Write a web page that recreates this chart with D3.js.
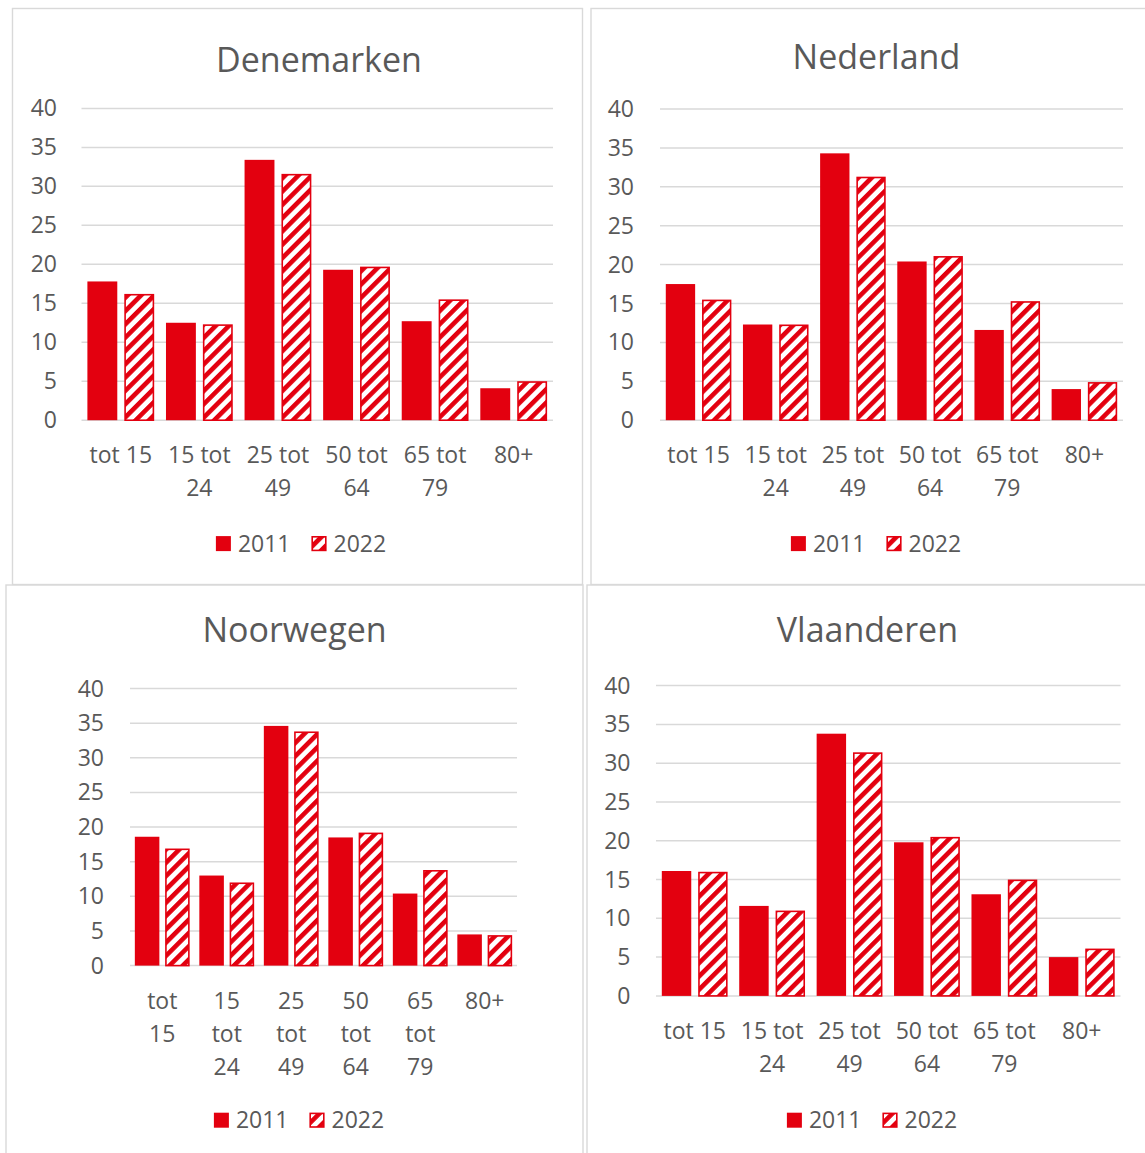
<!DOCTYPE html>
<html>
<head>
<meta charset="utf-8">
<script src="https://cdn.jsdelivr.net/npm/d3@7"></script>
<style>
  body { margin: 0; background: #fff; }
  text { font-family: "Open Sans", "Noto Sans", sans-serif; fill: #595959; }
</style>
</head>
<body>
<div id="chart"></div>
<script>
// categories, series and ticks
var categories = ["tot 15", "15 tot 24", "25 tot 49", "50 tot 64", "65 tot 79", "80+"];
var years = ["2011", "2022"];
var yTicks = [0, 5, 10, 15, 20, 25, 30, 35, 40];

var denemarken2011 = [17.8, 12.5, 33.4, 19.3, 12.7, 4.1];
var denemarken2022 = [16.2, 12.3, 31.6, 19.7, 15.5, 5.0];
var nederland2011 = [17.5, 12.3, 34.3, 20.4, 11.6, 4.0];
var nederland2022 = [15.5, 12.3, 31.3, 21.1, 15.3, 4.9];
var noorwegen2011 = [18.6, 13.0, 34.6, 18.5, 10.4, 4.5];
var noorwegen2022 = [16.9, 12.0, 33.8, 19.2, 13.8, 4.4];
var vlaanderen2011 = [16.1, 11.6, 33.8, 19.8, 13.1, 5.0];
var vlaanderen2022 = [16.0, 11.0, 31.4, 20.5, 15.0, 6.1];

var red = "#e3000f";
var grid = "#d9d9d9";

// panel layouts (positions only)
var panels = [
    { title: "Denemarken", s2011: denemarken2011, s2022: denemarken2022,
      box: [12.5, 8.5, 570, 576], titleX: 319, titleY: 71.5,
      left: 81.5, right: 553, top: 108.4, bottom: 420.2, tickX: 57,
      legendX: 301, legendY: 543.6 },
    { title: "Nederland", s2011: nederland2011, s2022: nederland2022,
      box: [591, 8.5, 570, 576], titleX: 876.4, titleY: 69,
      left: 660, right: 1123, top: 109, bottom: 420.2, tickX: 634,
      legendX: 876, legendY: 543.6 },
    { title: "Noorwegen", s2011: noorwegen2011, s2022: noorwegen2022,
      box: [6, 585, 577, 580], titleX: 294.5, titleY: 642,
      left: 130, right: 517, top: 688.5, bottom: 965.6, tickX: 104,
      legendX: 299, legendY: 1120.2 },
    { title: "Vlaanderen", s2011: vlaanderen2011, s2022: vlaanderen2022,
      box: [587, 585, 570, 580], titleX: 867.4, titleY: 642,
      left: 656, right: 1120.5, top: 685.6, bottom: 995.9, tickX: 630.5,
      legendX: 872, legendY: 1120.2 }
];

var svg = d3.select("#chart")
    .append("svg")
    .attr("width", 1145)
    .attr("height", 1153);

// diagonal hatch for 2022
svg.append("defs").append("pattern")
    .attr("id", "hatch")
    .attr("patternUnits", "userSpaceOnUse")
    .attr("width", 9.4)
    .attr("height", 9.4)
    .attr("patternTransform", "rotate(45)")
    .call(function (p) {
        p.append("rect").attr("width", 9.4).attr("height", 9.4).attr("fill", "#fff");
        p.append("rect").attr("width", 4.6).attr("height", 9.4).attr("fill", red);
    });

function wrap(textSel, maxWidth, lineHeight) {
    textSel.each(function () {
        var text = d3.select(this);
        var words = text.text().split(/\s+/);
        var x = text.attr("x");
        text.text(null);
        var lines = [];
        var line = [];
        var tspan = text.append("tspan");
        words.forEach(function (w) {
            line.push(w);
            tspan.text(line.join(" "));
            if (tspan.node().getComputedTextLength() > maxWidth && line.length > 1) {
                line.pop();
                lines.push(line.join(" "));
                line = [w];
            }
        });
        lines.push(line.join(" "));
        text.text(null);
        lines.forEach(function (l, i) {
            text.append("tspan")
                .attr("x", x)
                .attr("dy", i === 0 ? "0.35em" : lineHeight)
                .text(l);
        });
    });
}

panels.forEach(function (p) {
    var g = svg.append("g");

    // panel border
    g.append("rect")
        .attr("x", p.box[0]).attr("y", p.box[1])
        .attr("width", p.box[2]).attr("height", p.box[3])
        .attr("fill", "none")
        .attr("stroke", grid)
        .attr("stroke-width", 1.4);

    // title
    g.append("text")
        .attr("x", p.titleX)
        .attr("y", p.titleY)
        .attr("text-anchor", "middle")
        .style("font-size", "34px")
        .text(p.title);

    var x0 = d3.scaleBand()
        .domain(categories)
        .range([p.left, p.right])
        .paddingInner(0.15)
        .paddingOuter(0.075);

    var x1 = d3.scaleBand()
        .domain(years)
        .range([0, x0.bandwidth()])
        .paddingInner(0.19);

    var y = d3.scaleLinear()
        .domain([0, 40])
        .range([p.bottom, p.top]);

    // gridlines + y labels
    g.selectAll(".grid")
        .data(yTicks)
        .enter()
        .append("line")
        .attr("x1", p.left).attr("x2", p.right)
        .attr("y1", function (d) { return y(d); })
        .attr("y2", function (d) { return y(d); })
        .attr("stroke", grid)
        .attr("stroke-width", 1.5);

    g.selectAll(".ylab")
        .data(yTicks)
        .enter()
        .append("text")
        .attr("x", p.tickX)
        .attr("y", function (d) { return y(d); })
        .attr("dy", "0.35em")
        .attr("text-anchor", "end")
        .style("font-size", "23px")
        .text(function (d) { return d; });

    // bars
    var rows = categories.map(function (c, i) {
        return { cat: c, vals: [{ year: "2011", v: p.s2011[i] }, { year: "2022", v: p.s2022[i] }] };
    });

    g.selectAll(".grp")
        .data(rows)
        .enter()
        .append("g")
        .attr("transform", function (d) { return "translate(" + x0(d.cat) + ",0)"; })
        .selectAll("rect")
        .data(function (d) { return d.vals; })
        .enter()
        .append("rect")
        .attr("x", function (d) { return x1(d.year) + (d.year === "2022" ? 0.8 : 0); })
        .attr("y", function (d) { return y(d.v) + (d.year === "2022" ? 0.8 : 0); })
        .attr("width", function (d) { return x1.bandwidth() - (d.year === "2022" ? 1.6 : 0); })
        .attr("height", function (d) { return p.bottom - y(d.v) - (d.year === "2022" ? 0.8 : 0); })
        .attr("fill", function (d) { return d.year === "2011" ? red : "url(#hatch)"; })
        .attr("stroke", function (d) { return d.year === "2022" ? red : "none"; })
        .attr("stroke-width", 1.6);

    // category labels
    g.selectAll(".xlab")
        .data(categories)
        .enter()
        .append("text")
        .attr("x", function (d) { return x0(d) + x0.bandwidth() / 2; })
        .attr("y", p.bottom + 35)
        .attr("text-anchor", "middle")
        .style("font-size", "23px")
        .text(function (d) { return d; })
        .call(wrap, x0.step() - 6, 33);

    // legend
    var legend = g.append("g");
    var items = legend.selectAll(".leg")
        .data(years)
        .enter()
        .append("g");
    items.append("rect")
        .attr("width", function (d) { return d === "2011" ? 15 : 13.6; })
        .attr("height", function (d) { return d === "2011" ? 15 : 13.6; })
        .attr("x", function (d) { return d === "2011" ? 0 : 0.7; })
        .attr("y", function (d) { return d === "2011" ? -7.5 : -6.8; })
        .attr("fill", function (d) { return d === "2011" ? red : "url(#hatch)"; })
        .attr("stroke", function (d) { return d === "2011" ? "none" : red; })
        .attr("stroke-width", 1.6);
    items.append("text")
        .attr("x", 22)
        .attr("dy", "0.35em")
        .style("font-size", "23px")
        .text(function (d) { return d; });

    var offs = [];
    var pos = 0;
    items.each(function () {
        offs.push(pos);
        pos += 22 + d3.select(this).select("text").node().getComputedTextLength() + 21;
    });
    var total = pos - 21;
    items.attr("transform", function (d, i) {
        return "translate(" + (p.legendX - total / 2 + offs[i]) + "," + p.legendY + ")";
    });
});
</script>
</body>
</html>
